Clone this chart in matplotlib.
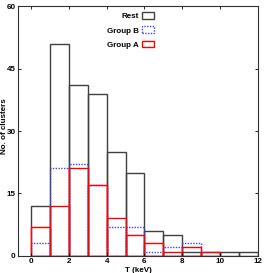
import matplotlib
matplotlib.use("Agg")
import matplotlib.pyplot as plt
import numpy as np

plt.rcParams['font.family'] = ['Liberation Sans', 'DejaVu Sans']
plt.rcParams['font.weight'] = 'bold'
plt.rcParams['font.size'] = 5.8

# bin edges in keV
edges = np.arange(0, 13, 1)

rest = [12, 51, 41, 39, 25, 20, 6, 5, 1, 1, 1, 1]
group_b = [3, 21, 22, 17, 7, 7, 1, 2, 3, 0, 0, 0]
group_a = [7, 12, 21, 17, 9, 5, 3, 1, 2, 1, 0, 0]

xticks = [0, 2, 4, 6, 8, 10, 12]
yticks = [0, 15, 30, 45, 60]

fig = plt.figure(figsize=(2.66, 2.73), dpi=100)
ax = fig.add_axes([18.3 / 266, 1 - 255.7 / 273, (258 - 18.3) / 266, (255.7 - 6.3) / 273])

left = edges[:-1]
width = np.diff(edges)

def outline(vals, color, ls, label):
    vals = np.array(vals)
    keep = vals > 0
    bars = ax.bar(left[keep], vals[keep], width=width[keep], align='edge',
                  fill=False, edgecolor=color, linestyle=ls, linewidth=1.0)
    # proxy for legend
    ax.bar([0], [0], width=0, fill=False, edgecolor=color, linestyle=ls,
           linewidth=1.0, label=label)
    return bars

outline(rest, '#404040', '-', 'Rest')
outline(group_b, '#4040ff', (0, (1, 1)), 'Group B')
outline(group_a, '#ff0000', '-', 'Group A')

ax.set_xlim(-0.67, 12)
ax.set_ylim(0, 60)
ax.set_xticks(xticks)
ax.set_yticks(yticks)
ax.tick_params(direction='in', top=True, right=True, length=2.5, width=0.6, pad=2)
ax.tick_params(labeltop=False, labelright=False)
for s in ax.spines.values():
    s.set_linewidth(0.8)
    s.set_color('#303030')

ax.set_xlabel("T (keV)", fontweight='bold', labelpad=1)
ax.set_ylabel("No. of clusters", fontweight='bold')
ax.yaxis.set_label_coords(-0.045, 0.52)

h, l = ax.get_legend_handles_labels()
leg = ax.legend(h, l, loc='upper right', bbox_to_anchor=(0.598, 1.005),
                frameon=False, markerfirst=False, handlelength=1.6,
                handleheight=0.9, handletextpad=0.3, labelspacing=0.75,
                prop={'weight': 'bold', 'size': 5.8})

fig.savefig("out.png", dpi=100)
